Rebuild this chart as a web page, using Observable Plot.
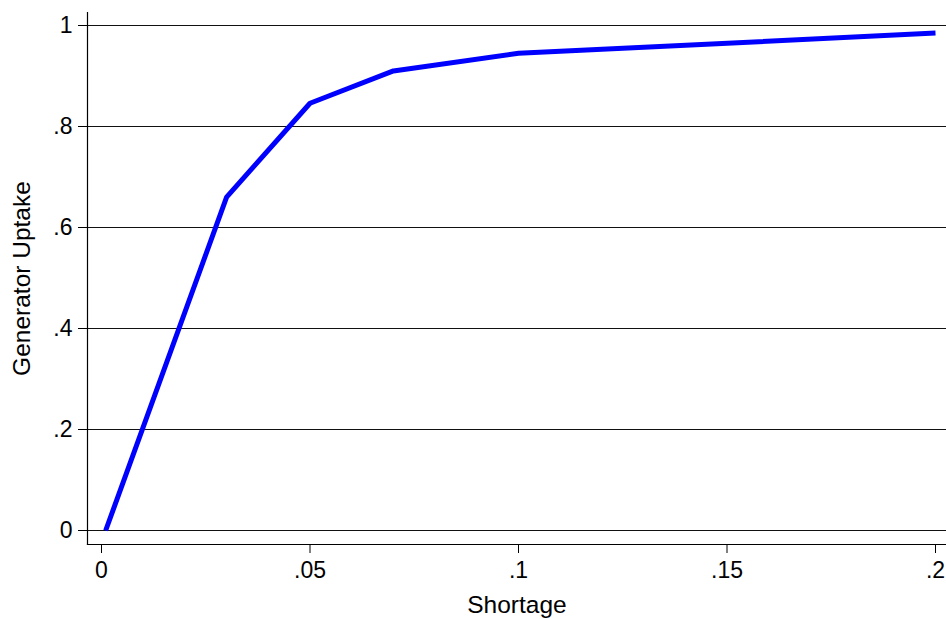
<!DOCTYPE html>
<html>
<head>
<meta charset="utf-8">
<script src="https://cdn.jsdelivr.net/npm/d3@7"></script>
<script src="https://cdn.jsdelivr.net/npm/@observablehq/plot@0.6"></script>
<style>
  html, body { margin: 0; padding: 0; background: #fff; }
  #chart svg { display: block; }
</style>
</head>
<body>
<div id="chart"></div>
<script>
const shortage = [0.001, 0.03, 0.05, 0.07, 0.1, 0.2];
const uptake = [0, 0.66, 0.846, 0.91, 0.945, 0.985];
const xTicks = [0, 0.05, 0.1, 0.15, 0.2];
const yTicks = [0, 0.2, 0.4, 0.6, 0.8, 1];
const xTitle = "Shortage";
const yTitle = "Generator Uptake";

const data = shortage.map((s, i) => ({ shortage: s, uptake: uptake[i] }));
const fmt = d => d === 0 ? "0" : String(d).replace(/^0\./, ".");

const chart = Plot.plot({
  width: 946,
  height: 619,
  marginLeft: 87,
  marginRight: 0,
  marginTop: 12,
  marginBottom: 75,
  style: { fontFamily: "'Liberation Sans', Arial, sans-serif", color: "#000", background: "#fff" },
  x: { domain: [0, 0.2], range: [101, 935] },
  y: { domain: [0, 1], range: [530, 25] },
  marks: [
    Plot.gridY(yTicks, { stroke: "#111", strokeOpacity: 1, strokeWidth: 1.1 }),
    Plot.frame({ anchor: "left", stroke: "#000", strokeWidth: 1.2 }),
    Plot.frame({ anchor: "bottom", stroke: "#000", strokeWidth: 1.2 }),
    Plot.axisX(xTicks, { tickSize: 9, tickPadding: 8, tickFormat: fmt, fontSize: 23, label: null }),
    Plot.axisY(yTicks, { tickSize: 9, tickPadding: 6, tickFormat: fmt, fontSize: 23, label: null }),
    Plot.axisX([], { tickSize: 0, fontSize: 24.5, label: xTitle, labelAnchor: "center", labelOffset: 68, labelArrow: "none" }),
    Plot.axisY([], { tickSize: 0, fontSize: 24.5, label: yTitle, labelAnchor: "center", labelOffset: 75, labelArrow: "none" }),
    Plot.line(data, { x: "shortage", y: "uptake", stroke: "#0000ff", strokeWidth: 5, strokeLinejoin: "miter", strokeLinecap: "butt" })
  ]
});
document.getElementById("chart").appendChild(chart);
</script>
</body>
</html>
